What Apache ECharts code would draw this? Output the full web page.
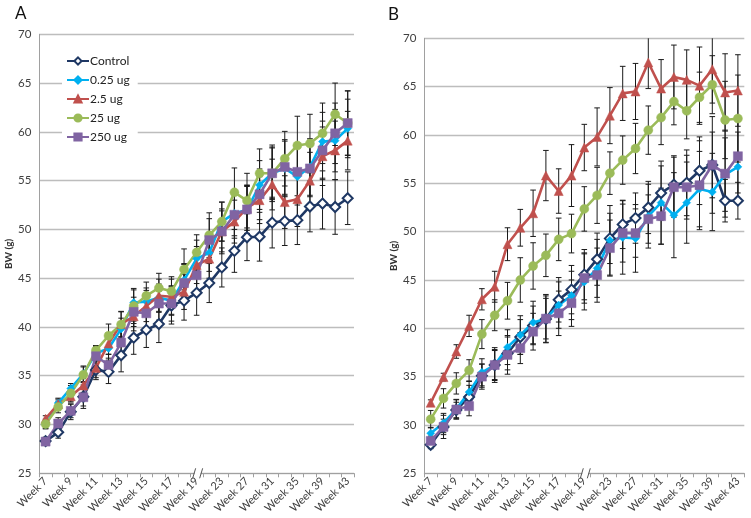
<!DOCTYPE html>
<html>
<head>
<meta charset="utf-8">
<script src="https://cdn.jsdelivr.net/npm/echarts@6.0.0/dist/echarts.min.js"></script>
<style>html,body{margin:0;padding:0;background:#fff;}#c{width:751px;height:518px;}</style>
</head>
<body>
<div id="c"></div>
<script>
// ---------- DATA ----------
var weeks = ['Week 7','Week 8','Week 9','Week 10','Week 11','Week 12','Week 13','Week 14','Week 15','Week 16','Week 17','Week 18','Week 19',
             'Week 21','Week 23','Week 25','Week 27','Week 29','Week 31','Week 33','Week 35','Week 37','Week 39','Week 41','Week 43'];
var seriesNames = ['Control','0.25 ug','2.5 ug','25 ug','250 ug'];
var yTicks = [25,30,35,40,45,50,55,60,65,70];

// Panel A
var controlA = [28.3,29.2,31.3,32.85,35.6,35.4,37.1,38.9,39.7,40.3,42.2,42.7,43.5,44.5,46.1,47.8,49.2,49.25,50.7,50.85,50.95,52.35,52.65,52.3,53.2];
var ug025A   = [30.0,32.2,33.7,35.2,37.3,37.8,39.8,42.5,42.6,43.0,42.7,44.8,47.0,47.6,50.8,51.65,52.0,54.55,55.75,56.25,55.4,56.4,59.0,59.1,60.35];
var ug25A    = [30.6,32.1,32.9,34.0,35.8,38.3,40.3,41.1,42.15,43.2,43.1,43.6,46.35,47.0,49.8,50.8,52.2,53.0,54.6,52.8,53.1,55.0,57.5,58.1,59.1];
var ug250A_green = [30.05,31.8,33.2,35.1,37.6,39.1,40.25,42.15,43.2,44.0,43.65,45.9,47.65,49.4,50.8,53.8,52.95,55.75,55.75,57.25,58.6,58.8,59.85,61.8,60.9];
var ug250A   = [28.25,30.1,31.4,32.8,37.0,36.1,38.4,41.55,41.4,42.4,42.4,44.5,45.3,48.9,49.8,51.5,52.05,53.6,55.75,56.4,55.9,56.25,58.1,59.85,60.9];
var controlAErr = [0.4,0.6,0.8,1.2,1.0,1.2,1.7,1.7,1.8,1.9,1.9,2.0,2.3,2.0,2.0,2.2,2.4,2.5,2.6,2.5,2.5,2.6,2.6,2.8,2.7];
var ug025AErr   = [0.4,0.5,0.5,0.8,0.8,1.0,1.1,1.3,1.4,1.4,1.5,1.7,1.9,1.9,2.0,2.3,2.4,2.5,2.6,2.8,2.9,2.9,3.0,3.2,3.0];
var ug25AErr    = [0.3,0.5,0.6,0.7,1.0,1.1,1.3,1.5,1.6,1.7,1.8,1.8,1.9,2.0,2.1,2.2,2.3,2.4,2.6,2.7,2.8,2.9,3.0,3.0,3.0];
var ug250A_greenErr = [0.5,0.6,0.8,0.8,0.5,1.2,1.3,1.8,1.4,1.5,1.5,2.1,1.8,2.3,2.0,2.5,2.8,2.5,2.9,2.8,3.0,3.0,3.1,3.2,3.3];
var ug250AErr   = [0.4,0.6,0.7,0.9,1.0,1.1,1.4,1.5,1.6,1.7,1.8,1.9,1.9,2.2,2.3,2.4,2.5,2.6,2.7,2.8,2.8,2.9,3.0,3.1,3.3];

// Panel B
var controlB = [27.95,29.8,31.55,32.9,35.1,36.2,37.4,39.1,40.3,40.95,42.95,44.0,45.55,47.15,49.3,50.75,51.4,52.5,54.0,54.85,55.05,56.3,56.9,53.2,53.2];
var ug025B   = [29.15,30.2,31.65,33.4,35.45,36.2,38.05,39.3,40.6,41.0,42.4,43.4,44.8,46.2,49.1,49.4,49.3,51.6,53.0,51.7,53.0,54.4,54.1,55.9,56.7];
var ug25B    = [32.3,34.95,37.6,40.25,43.0,44.3,48.7,50.4,51.9,55.8,54.2,55.8,58.7,59.8,62.0,64.3,64.5,67.5,64.8,66.0,65.7,65.1,66.8,64.4,64.6];
var ug25B_green = [30.6,32.75,34.3,35.65,39.4,41.35,42.85,45.0,46.45,47.55,49.2,49.8,52.35,53.75,56.05,57.4,58.6,60.5,61.8,63.45,62.5,63.9,65.2,61.55,61.7];
var ug250B   = [28.35,29.8,31.6,31.95,35.0,36.2,37.25,37.95,39.65,41.0,41.55,42.6,45.2,45.5,48.3,49.85,49.85,51.3,51.6,54.6,54.6,54.8,56.9,56.0,57.8];
var controlBErr = [0.4,0.8,0.8,1.2,1.2,1.5,1.7,1.8,2.0,2.4,2.3,2.5,2.6,2.7,2.6,2.5,2.6,2.7,2.8,3.0,3.4,3.5,3.4,2.2,1.9];
var ug025BErr   = [0.6,1.0,1.0,1.1,1.4,1.6,1.8,2.0,2.2,2.5,2.4,2.5,2.9,3.0,3.6,3.8,3.5,3.3,4.3,4.4,4.2,3.9,4.0,3.8,3.6];
var ug25BErr    = [0.3,0.4,0.7,1.1,1.1,1.6,1.7,1.9,2.4,2.6,2.3,3.2,2.4,3.0,2.9,2.8,2.9,2.7,3.0,3.3,3.1,4.0,3.5,4.0,3.7];
var ug25B_greenErr = [0.9,1.0,1.1,1.1,1.5,1.6,1.9,2.3,2.4,2.2,2.2,2.0,2.3,2.9,2.2,2.5,2.6,2.5,2.8,2.4,2.9,2.6,3.0,4.0,4.5];
var ug250BErr   = [0.5,1.2,1.0,1.0,1.3,1.8,2.0,1.6,1.9,2.1,2.3,2.4,2.6,2.8,2.9,3.0,2.5,2.5,2.9,3.1,3.3,4.6,5.0,4.5,3.8];

// ---------- STYLE ----------
var FONT = 'Lato, "Open Sans", sans-serif';
var styles = [
  {color:'#1F3864', symbol:'diamond', size:10, hollow:true},
  {color:'#00B0F0', symbol:'diamond', size:8},
  {color:'#C0504D', symbol:'triangle', size:9},
  {color:'#9BBB59', symbol:'circle', size:9},
  {color:'#8064A2', symbol:'rect', size:9}
];
var panelA = [[controlA,controlAErr],[ug025A,ug025AErr],[ug25A,ug25AErr],[ug250A_green,ug250A_greenErr],[ug250A,ug250AErr]];
var panelB = [[controlB,controlBErr],[ug025B,ug025BErr],[ug25B,ug25BErr],[ug25B_green,ug25B_greenErr],[ug250B,ug250BErr]];

function errRender(params, api){
  var x = api.value(0), lo = api.value(1), hi = api.value(2);
  var top = params.coordSys.y, bot = params.coordSys.y + params.coordSys.height;
  var pHi = api.coord([x, hi]), pLo = api.coord([x, lo]);
  var w = 2.8, st = {stroke:'#1a1a1a', lineWidth:1};
  var ch = [];
  var yh = Math.max(pHi[1], top), yl = Math.min(pLo[1], bot);
  ch.push({type:'line', shape:{x1:pHi[0], y1:yh, x2:pLo[0], y2:yl}, style:st});
  if (pHi[1] >= top) ch.push({type:'line', shape:{x1:pHi[0]-w, y1:pHi[1], x2:pHi[0]+w, y2:pHi[1]}, style:st});
  if (pLo[1] <= bot) ch.push({type:'line', shape:{x1:pLo[0]-w, y1:pLo[1], x2:pLo[0]+w, y2:pLo[1]}, style:st});
  return {type:'group', children:ch};
}

var series = [];
[panelA, panelB].forEach(function(panel, pi){
  panel.forEach(function(s, si){
    var vals = s[0], errs = s[1];
    series.push({
      type:'custom', name: 'err-' + pi + '-' + si, xAxisIndex:pi, yAxisIndex:pi, z:1,
      renderItem: errRender, silent:true,
      encode:{x:0, y:[1,2]},
      data: vals.map(function(v,i){ return [i, v - errs[i], v + errs[i]]; })
    });
  });
  panel.forEach(function(s, si){
    var st = styles[si];
    series.push({
      type:'line', name: seriesNames[si], xAxisIndex:pi, yAxisIndex:pi, z:2,
      data: s[0], symbol: st.symbol, symbolSize: st.size, showAllSymbol:true,
      color: st.color,
      lineStyle:{color: st.color, width:2.6},
      itemStyle: st.hollow ? {color:'#ffffff', borderColor: st.color, borderWidth:2} : {color: st.color, borderColor: st.color, borderWidth:0.5},
      emphasis:{disabled:true}, animation:false
    });
  });
});

function xAx(gi){
  return {type:'category', gridIndex:gi, data:weeks, boundaryGap:true,
    axisLine:{lineStyle:{color:'#a0a0a0', width:1}},
    axisTick:{show:true, interval:0, length:4, lineStyle:{color:'#a0a0a0'}},
    axisLabel:{interval:1, rotate:45, fontSize:11, color:'#404040', fontFamily:FONT, margin:6},
    splitLine:{show:false}};
}
function yAx(gi){
  return {type:'value', gridIndex:gi, min:yTicks[0], max:yTicks[yTicks.length-1], interval:5,
    name:'BW (g)', nameLocation:'middle', nameGap:26,
    nameTextStyle:{fontSize:10, fontWeight:'bold', color:'#333', fontFamily:FONT},
    axisLine:{show:true, lineStyle:{color:'#a0a0a0', width:1}},
    axisTick:{show:false},
    axisLabel:{fontSize:11.5, color:'#404040', fontFamily:FONT, margin:8},
    splitLine:{lineStyle:{color:'#bdbdbd', width:1.3}}};
}

var chart = echarts.init(document.getElementById('c'), null, {renderer:'canvas'});
var titles = [
  {type:'text', left:15, top:5, style:{text:'A', fontSize:17, fill:'#111', fontFamily:FONT}},
  {type:'text', left:388, top:6, style:{text:'B', fontSize:17, fill:'#111', fontFamily:FONT}}
];
chart.setOption({
  animation:false,
  backgroundColor:'#fff',
  textStyle:{fontFamily:FONT},
  grid:[
    {left:39.3, top:34.3, width:314.7, height:439},
    {left:424.3, top:38.3, width:320, height:435}
  ],
  xAxis:[xAx(0), xAx(1)],
  yAxis:[yAx(0), yAx(1)],
  legend:{
    data:seriesNames, orient:'vertical', left:62, top:50,
    backgroundColor:'#fff', padding:[4,8,4,4], itemGap:5,
    itemWidth:22, itemHeight:9,
    textStyle:{fontSize:12, color:'#222', fontFamily:FONT, lineHeight:14, padding:[0,0,0,-4]},
    selectedMode:false
  },
  series: series,
  graphic: titles
});

// axis break marks "//" at Week 19 on both x axes
var extra = [];
[0,1].forEach(function(gi){
  var x = chart.convertToPixel({xAxisIndex:gi}, weeks.indexOf('Week 19'));
  var y = chart.convertToPixel({yAxisIndex:gi}, yTicks[0]);
  x = x + 1;
  extra.push({type:'rect', shape:{x:x-3, y:y-2, width:6, height:4}, style:{fill:'#fff'}, z:100});
  extra.push({type:'line', shape:{x1:x-5, y1:y+5, x2:x-2, y2:y-5}, style:{stroke:'#555', lineWidth:1}, z:101});
  extra.push({type:'line', shape:{x1:x+2, y1:y+5, x2:x+5, y2:y-5}, style:{stroke:'#555', lineWidth:1}, z:101});
});
chart.setOption({graphic: titles.concat(extra)});
</script>
</body>
</html>
